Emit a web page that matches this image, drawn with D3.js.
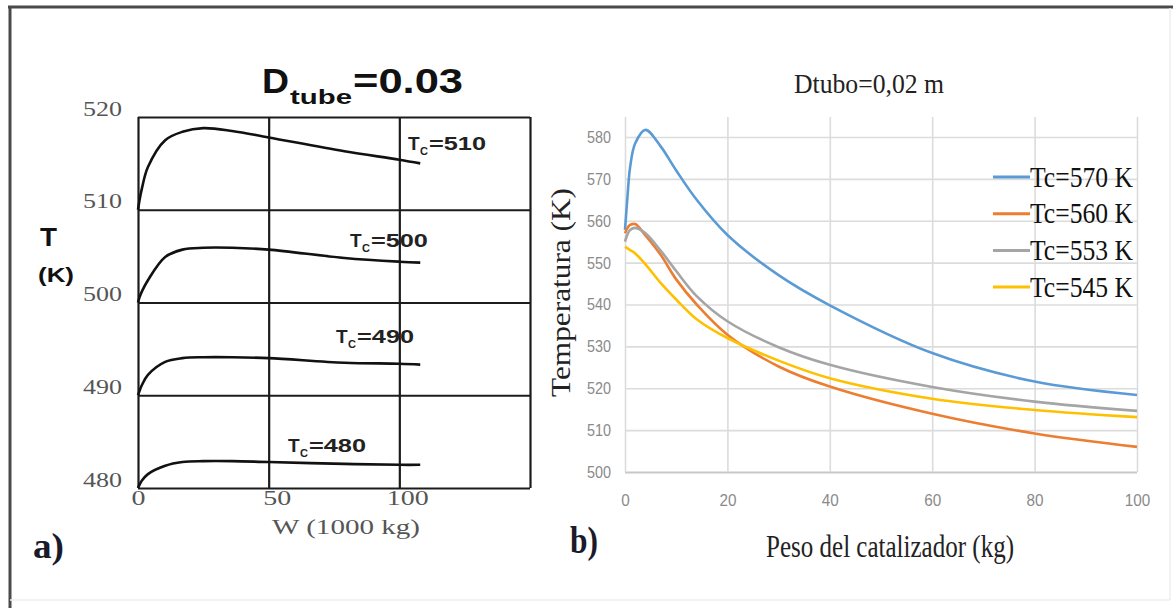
<!DOCTYPE html>
<html lang="es">
  <head>
    <meta charset="UTF-8" />
    <title>Perfiles de temperatura</title>
    <script src="https://d3js.org/d3.v7.min.js"></script>
    <style>
      body { margin: 0; background: #fff; }
      svg { display: block; background: #fff; }
      .serif { font-family: "Liberation Serif", "Times New Roman", serif; }
      .sans { font-family: "Liberation Sans", Arial, sans-serif; }
    </style>
  </head>
  <body>
    <svg id="chart" width="1173" height="608"></svg>

    <script>
      // ---- datos panel a) (W en 1000 kg, T en K)
      const wA = [0, 0.5, 1.5, 3.8, 10.4, 17, 25, 36, 50, 79, 100, 108];
      const tA510 = [510, 510.9, 512.3, 514.6, 517.5, 518.4, 518.8, 518.5, 517.8, 516.3, 515.4, 515.0];
      const tA500 = [500, 500.5, 501.2, 502.4, 504.9, 505.7, 505.9, 505.9, 505.7, 504.8, 504.4, 504.3];
      const tA490 = [490, 490.4, 491.1, 492.2, 493.6, 494.0, 494.1, 494.1, 494.0, 493.5, 493.4, 493.3];
      const tA480 = [480, 480.3, 480.8, 481.5, 482.4, 482.8, 482.9, 482.9, 482.8, 482.6, 482.5, 482.5];
      const labelsA = ["510", "500", "490", "480"];
      const labelWA = [103.3, 81.1, 75.8, 57.4];
      const labelTA = [516.4, 506.0, 495.6, 483.9];
      const ticksYA = [480, 490, 500, 510, 520];
      const gridXA = [0, 50, 100, 150];

      // ---- datos panel b) (peso en kg, T en K)
      const wB = [0, 0.5, 1, 2, 4, 7, 10, 14, 20, 30, 40, 60, 80, 100];
      const tB570 = [557.8, 566, 572.8, 578.5, 581.7, 577.7, 572.0, 565.0, 556.6, 547.0, 539.8, 528.4, 521.6, 518.4];
      const tB560 = [557.0, 558.3, 559.0, 559.2, 556.5, 551.8, 546.0, 540.0, 532.8, 525.2, 520.4, 513.9, 509.2, 506.0];
      const tB553 = [555.0, 556.8, 557.8, 558.3, 557.0, 552.8, 548.0, 542.0, 536.0, 529.8, 525.6, 520.3, 516.8, 514.6];
      const tB545 = [553.8, 553.4, 553.0, 552.2, 549.6, 545.1, 541.2, 536.5, 532.0, 526.6, 522.4, 517.5, 514.8, 513.1];
      const legendB = ["Tc=570 K", "Tc=560 K", "Tc=553 K", "Tc=545 K"];
      const colorsB = ["#5b9bd5", "#ed7d31", "#a5a5a5", "#ffc000"];
      const ticksYB = [500, 510, 520, 530, 540, 550, 560, 570, 580];
      const ticksXB = [0, 20, 40, 60, 80, 100];

      const svg = d3.select("#chart");

      // marco exterior
      svg.append("line").attr("x1", 8).attr("x2", 1173).attr("y1", 7).attr("y2", 7)
        .attr("stroke", "#4a4a4a").attr("stroke-width", 3);
      svg.append("line").attr("x1", 10).attr("x2", 10).attr("y1", 6).attr("y2", 608)
        .attr("stroke", "#4a4a4a").attr("stroke-width", 3);
      svg.append("line").attr("x1", 1170).attr("x2", 1170).attr("y1", 8).attr("y2", 600)
        .attr("stroke", "#eee").attr("stroke-width", 1.5);
      svg.append("line").attr("x1", 10).attr("x2", 1170).attr("y1", 600).attr("y2", 600)
        .attr("stroke", "#eee").attr("stroke-width", 1.5);

      // ================= panel a)
      const xA = d3.scaleLinear().domain([0, 150]).range([138, 530]);
      const yA = d3.scaleLinear().domain([480, 520]).range([488, 117]);

      const gyA = svg.append("g")
        .attr("transform", `translate(${xA(0)},0)`)
        .call(d3.axisLeft(yA).tickValues(ticksYA).tickSize(-(xA(150) - xA(0))).tickPadding(16));
      const gxA = svg.append("g")
        .attr("transform", `translate(0,${yA(480)})`)
        .call(d3.axisBottom(xA).tickValues(gridXA).tickSize(-(yA(480) - yA(520)))
          .tickFormat((d) => (d > 100 ? "" : d)));
      [gyA, gxA].forEach((g) => {
        g.select(".domain").remove();
        g.selectAll(".tick line").attr("stroke", "#1c1c1c").attr("stroke-width", 2.2);
        g.selectAll("text").attr("class", "serif").attr("font-size", 22).attr("fill", "#555");
      });
      gyA.selectAll("text").attr("dy", -2).attr("textLength", 39).attr("lengthAdjust", "spacingAndGlyphs");
      gxA.selectAll("text").attr("y", 17).attr("dy", 0).attr("dx", (d) => (d ? 8 : 0))
        .attr("textLength", (d) => String(d).length * 14).attr("lengthAdjust", "spacingAndGlyphs");

      const lineA = d3.line().x((d) => xA(d[0])).y((d) => yA(d[1])).curve(d3.curveCatmullRom.alpha(0.5));
      [tA510, tA500, tA490, tA480].forEach((ts) => {
        svg.append("path")
          .attr("d", lineA(wA.map((w, i) => [w, ts[i]])))
          .attr("fill", "none").attr("stroke", "#111").attr("stroke-width", 2.6);
      });

      // etiquetas Tc en panel a)
      labelsA.forEach((lab, i) => {
        const x0 = xA(labelWA[i]);
        const y0 = yA(labelTA[i]);
        const g = svg.append("g").attr("class", "sans").attr("font-weight", "bold").attr("fill", "#222");
        g.append("text").attr("x", x0).attr("y", y0).attr("font-size", 19).text("T");
        g.append("text").attr("x", x0 + 12).attr("y", y0 + 5).attr("font-size", 11).text("C");
        g.append("text").attr("x", x0 + 21).attr("y", y0).attr("font-size", 19)
          .attr("textLength", 57).attr("lengthAdjust", "spacingAndGlyphs").text("=" + lab);
      });

      // título panel a)
      const tA = svg.append("g").attr("class", "sans").attr("font-weight", "bold").attr("fill", "#111");
      tA.append("text").attr("x", 262).attr("y", 93).attr("font-size", 35)
        .attr("textLength", 27).attr("lengthAdjust", "spacingAndGlyphs").text("D");
      tA.append("text").attr("x", 290).attr("y", 104).attr("font-size", 21)
        .attr("textLength", 62).attr("lengthAdjust", "spacingAndGlyphs").text("tube");
      tA.append("text").attr("x", 353).attr("y", 93).attr("font-size", 35)
        .attr("textLength", 110).attr("lengthAdjust", "spacingAndGlyphs").text("=0.03");

      // eje Y panel a)
      svg.append("text").attr("class", "sans").attr("font-weight", "bold").attr("font-size", 25)
        .attr("x", 40).attr("y", 246).attr("textLength", 17).attr("lengthAdjust", "spacingAndGlyphs")
        .attr("fill", "#111").text("T");
      svg.append("text").attr("class", "sans").attr("font-weight", "bold").attr("font-size", 20)
        .attr("x", 38).attr("y", 282).attr("textLength", 36).attr("lengthAdjust", "spacingAndGlyphs")
        .attr("fill", "#111").text("(K)");

      svg.append("text").attr("class", "serif").attr("font-size", 22).attr("fill", "#555")
        .attr("x", 346).attr("y", 534).attr("text-anchor", "middle")
        .attr("textLength", 148).attr("lengthAdjust", "spacingAndGlyphs").text("W (1000 kg)");
      svg.append("text").attr("class", "serif").attr("font-weight", "bold").attr("font-size", 36)
        .attr("fill", "#1a1a2a").attr("x", 33).attr("y", 558)
        .attr("textLength", 31).attr("lengthAdjust", "spacingAndGlyphs").text("a)");

      // ================= panel b)
      const xB = d3.scaleLinear().domain([0, 100]).range([625, 1137]);
      const yB = d3.scaleLinear().domain([500, 580]).range([472, 137]);

      const gyB = svg.append("g")
        .attr("transform", `translate(${xB(0)},0)`)
        .call(d3.axisLeft(yB).tickValues(ticksYB).tickSize(-(xB(100) - xB(0))).tickPadding(14));
      const gxB = svg.append("g")
        .attr("transform", `translate(0,${yB(500)})`)
        .call(d3.axisBottom(xB).tickValues(ticksXB).tickSize(-(yB(500) - 117)));
      [gyB, gxB].forEach((g) => {
        g.select(".domain").remove();
        g.selectAll(".tick line").attr("stroke", "#dcdcdc").attr("stroke-width", 1.6);
        g.selectAll("text").attr("class", "sans").attr("font-size", 17).attr("fill", "#8a8a8a")
          .attr("lengthAdjust", "spacingAndGlyphs");
      });
      gyB.selectAll(".tick line").filter((d) => d === 500).attr("stroke", "#c8c8c8").attr("stroke-width", 2);
      gyB.selectAll("text").attr("textLength", 24);
      gxB.selectAll("text").attr("y", 34).attr("dy", 0)
        .attr("textLength", (d) => String(d).length * 8.5);

      const lineB = d3.line().x((d) => xB(d[0])).y((d) => yB(d[1])).curve(d3.curveCatmullRom.alpha(0.5));
      [tB570, tB560, tB553, tB545].forEach((ts, i) => {
        svg.append("path")
          .attr("d", lineB(wB.map((w, j) => [w, ts[j]])))
          .attr("fill", "none").attr("stroke", colorsB[i]).attr("stroke-width", 2.6);
      });

      // leyenda
      const leg = svg.append("g");
      legendB.forEach((lab, i) => {
        const y = 177 + i * 36.7;
        leg.append("line").attr("x1", 993).attr("x2", 1030).attr("y1", y).attr("y2", y)
          .attr("stroke", colorsB[i]).attr("stroke-width", 3);
        leg.append("text").attr("class", "serif").attr("font-size", 29).attr("fill", "#111")
          .attr("x", 1030).attr("y", y + 9.5).attr("textLength", 103)
          .attr("lengthAdjust", "spacingAndGlyphs").text(lab);
      });

      // títulos panel b)
      svg.append("text").attr("class", "serif").attr("font-size", 28).attr("fill", "#222")
        .attr("x", 869).attr("y", 93).attr("text-anchor", "middle")
        .attr("textLength", 150).attr("lengthAdjust", "spacingAndGlyphs").text("Dtubo=0,02 m");
      svg.append("text").attr("class", "serif").attr("font-size", 27).attr("fill", "#222")
        .attr("transform", "translate(570,292.5) rotate(-90)").attr("text-anchor", "middle")
        .attr("textLength", 209).attr("lengthAdjust", "spacingAndGlyphs").text("Temperatura (K)");
      svg.append("text").attr("class", "serif").attr("font-size", 31).attr("fill", "#222")
        .attr("x", 890).attr("y", 557).attr("text-anchor", "middle")
        .attr("textLength", 248).attr("lengthAdjust", "spacingAndGlyphs").text("Peso del catalizador (kg)");
      svg.append("text").attr("class", "serif").attr("font-weight", "bold").attr("font-size", 38)
        .attr("fill", "#1a1a2a").attr("x", 570).attr("y", 553)
        .attr("textLength", 28).attr("lengthAdjust", "spacingAndGlyphs").text("b)");
    </script>
  </body>
</html>
